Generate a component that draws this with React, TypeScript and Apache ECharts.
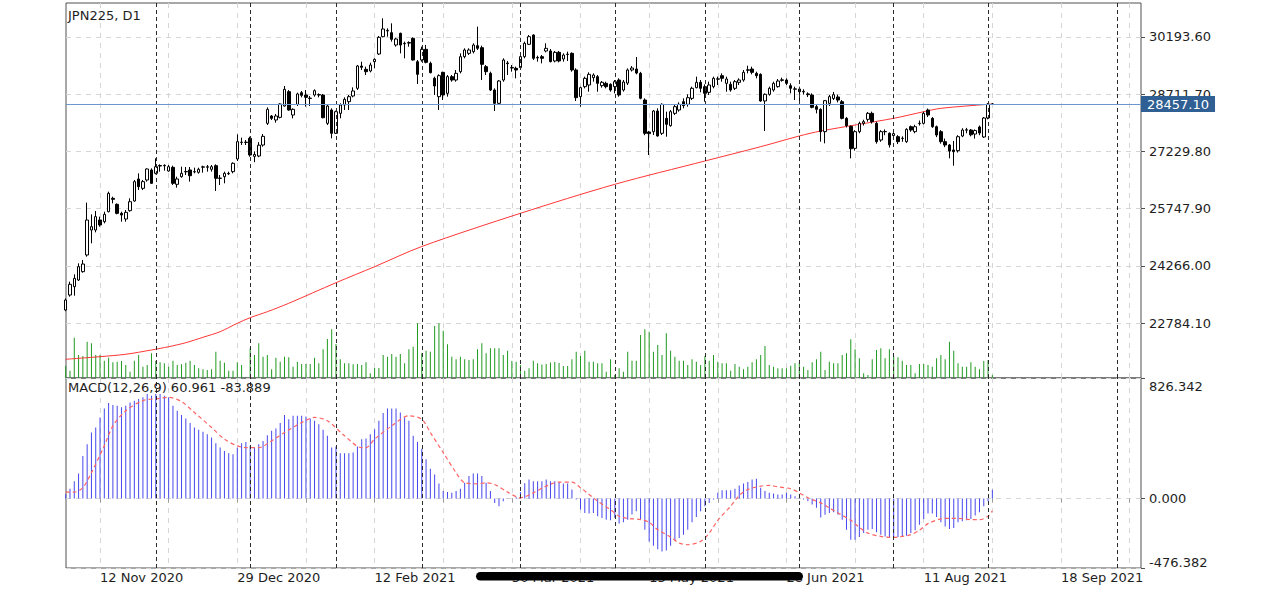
import React, { useEffect, useRef } from "react";
import * as echarts from "echarts";

const FONT = "DejaVu Sans";
const symbolTitle = "JPN225, D1";
const macdTitle = "MACD(12,26,9) 60.961 -83.889";
const lastPrice = 28457.1;

// Daily bars, bar 0 = 2 Nov 2020 ... bar 216 = 2 Sep 2021
const opens = [
  23121, 23509, 23725, 23898, 24114, 24546, 25193, 25193, 25452, 25409,
  25668, 26014, 25858, 25625, 25478, 25694, 25945, 26515, 26273, 26489,
  26748, 26662, 26850, 26868, 26722, 26817, 26377, 26575, 26700, 26748,
  26700, 26688, 26820, 26830, 26765, 26860, 26530, 26575, 26650, 26705,
  27033, 27460, 27470, 27568, 27100, 27111, 27395, 27957, 28147, 28043,
  28112, 28406, 28777, 28173, 28449, 28751, 28691, 28600, 28691, 28700,
  28691, 27957, 28302, 27698, 28216, 28432, 28518, 28665, 28864, 29442,
  29356, 29313, 29554, 29753, 30202, 30350, 30306, 29986, 30289, 30030,
  30035, 30159, 29554, 29598, 29874, 29511, 29123, 28648, 29278, 28734,
  29166, 29079, 29295, 29684, 29770, 29814, 29969, 29917, 29425, 29252,
  28820, 28475, 29079, 29520, 29390, 29382, 29399, 29684, 30004, 30245,
  29650, 29684, 29831, 29831, 29572, 29796, 29624, 29740, 29770, 29339,
  28648, 28907, 28950, 29140, 29166, 28933, 28993, 28967, 28907, 29079,
  28820, 28999, 29339, 29364, 29252, 28561, 27733, 27741, 28276, 27698,
  28086, 27896, 28216, 28302, 28518, 28449, 28604, 28881, 29019, 28907,
  28760, 28907, 29100, 29192, 28993, 28967, 28864, 29019, 29079, 29330,
  29364, 29252, 29226, 28536, 28708, 28820, 28907, 29070, 29079, 28933,
  28840, 28846, 28770, 28720, 28691, 28389, 28320, 27741, 28475, 28600,
  28640, 28518, 28086, 27880, 27309, 27741, 27957, 28060, 28216, 27957,
  27525, 27740, 27700, 27640, 27611, 27565, 27482, 27870, 27741, 27950,
  27957, 28302, 28086, 27870, 27741, 27482, 27396, 27266, 27249, 27628,
  27780, 27784, 27680, 27862, 27603, 28095, 28455,
];
const highs = [
  23420, 23855, 24045, 24330, 24416, 25902, 25599, 25686, 25539, 25668,
  26187, 26057, 25884, 25668, 25712, 26014, 26489, 26662, 26489, 26791,
  26791, 27050, 26895, 26895, 26877, 26860, 26575, 26834, 26826, 26826,
  26808, 26808, 26860, 26877, 26877, 26895, 26618, 26705, 26705, 26946,
  27672, 27586, 27525, 27611, 27230, 27470, 27681, 28371, 28173, 28199,
  28475, 28924, 28820, 28345, 28751, 28795, 28820, 28665, 28838, 28734,
  28717, 28449, 28345, 28285, 28475, 28630, 28691, 28889, 29468, 29554,
  29425, 29529, 29641, 30219, 30677, 30418, 30548, 30176, 30306, 30073,
  30081, 30185, 29598, 29943, 29986, 29554, 29166, 29226, 29295, 29209,
  29209, 29339, 29770, 29900, 29900, 30030, 30461, 29969, 29468, 29295,
  28863, 29079, 29641, 29572, 29468, 29425, 29727, 30073, 30245, 30263,
  29710, 29727, 30030, 29883, 29831, 29831, 29770, 29814, 29796, 29382,
  28907, 29166, 29278, 29252, 29209, 29054, 29036, 28993, 29079, 29123,
  29080, 29380, 29440, 29675, 29290, 28604, 27760, 28302, 28345, 28475,
  28259, 28302, 28449, 28501, 28604, 28708, 28907, 29166, 29079, 28967,
  29036, 29166, 29166, 29252, 29166, 29036, 29079, 29123, 29339, 29451,
  29425, 29295, 29252, 28734, 28907, 29036, 29105, 29140, 29123, 28993,
  28907, 28907, 28840, 28760, 28734, 28432, 28345, 28561, 28691, 28770,
  28700, 28561, 28120, 27900, 27780, 28000, 28050, 28250, 28260, 28000,
  27780, 27800, 27720, 27760, 27650, 27620, 27830, 27900, 27920, 28030,
  28260, 28340, 28120, 27900, 27780, 27560, 27420, 27500, 27650, 27830,
  27840, 27810, 27800, 27900, 28120, 28480, 28480,
];
const lows = [
  23090, 23466, 23492, 23872, 24088, 24503, 24848, 25133, 25280, 25366,
  25651, 25884, 25599, 25409, 25409, 25668, 25927, 26230, 26230, 26446,
  26385, 26636, 26705, 26731, 26705, 26360, 26290, 26549, 26618, 26446,
  26662, 26653, 26679, 26705, 26705, 26204, 26359, 26403, 26618, 26662,
  26981, 27396, 27396, 27093, 26950, 27080, 27352, 27914, 28043, 27974,
  28086, 28389, 28285, 28086, 28406, 28630, 28389, 28406, 28647, 28630,
  28086, 27914, 27568, 27681, 28086, 28302, 28302, 28630, 28820, 29339,
  29209, 29278, 29382, 29727, 30185, 30202, 30073, 29943, 29770, 29641,
  29943, 29580, 28976, 29554, 29511, 29252, 28691, 28302, 28561, 28648,
  29036, 29036, 29252, 29641, 29727, 29770, 29857, 29079, 29209, 28794,
  28276, 28432, 29036, 29209, 29295, 29123, 29382, 29641, 29986, 29598,
  29555, 29511, 29796, 29537, 29537, 29537, 29555, 29572, 29295, 28535,
  28389, 28863, 28777, 29036, 28777, 28881, 28863, 28777, 28734, 28648,
  28780, 28950, 29300, 29226, 28580, 27650, 27136, 27655, 27611, 27655,
  27611, 27870, 28173, 28259, 28345, 28389, 28561, 28864, 28760, 28518,
  28691, 28864, 28950, 29036, 28777, 28777, 28820, 28950, 29036, 29252,
  29226, 29123, 28518, 27758, 28674, 28777, 28881, 29036, 28950, 28734,
  28561, 28536, 28700, 28640, 28345, 28216, 27482, 27439, 28406, 28560,
  28500, 28060, 27850, 27050, 27250, 27700, 27900, 28000, 27950, 27430,
  27480, 27650, 27330, 27560, 27420, 27480, 27450, 27740, 27700, 27900,
  27930, 28120, 27840, 27600, 27430, 27340, 27050, 26860, 27200, 27600,
  27700, 27620, 27560, 27650, 27580, 28060, 28440,
];
const closes = [
  23380, 23786, 23941, 24243, 24312, 25452, 25280, 25539, 25323, 25599,
  26143, 25988, 25625, 25582, 25651, 25927, 26446, 26316, 26446, 26774,
  26403, 26834, 26865, 26858, 26834, 26403, 26515, 26662, 26710, 26601,
  26705, 26765, 26830, 26822, 26834, 26532, 26540, 26662, 26660, 26921,
  27482, 27470, 27460, 27137, 27150, 27390, 27620, 28319, 28086, 28147,
  28458, 28838, 28302, 28319, 28717, 28682, 28630, 28610, 28803, 28690,
  28104, 28406, 27698, 28259, 28432, 28579, 28648, 28795, 29442, 29408,
  29295, 29468, 29615, 30185, 30401, 30365, 30133, 30142, 29986, 30020,
  30050, 29598, 29226, 29874, 29537, 29270, 28924, 29192, 28691, 29166,
  29079, 29252, 29684, 29857, 29857, 29986, 29900, 29485, 29295, 28820,
  28475, 29054, 29598, 29505, 29405, 29339, 29684, 30030, 30202, 29641,
  29665, 29641, 29900, 29555, 29796, 29572, 29727, 29748, 29339, 28622,
  28881, 29123, 29226, 29209, 28993, 29019, 28907, 28820, 29036, 28691,
  29027, 29339, 29390, 29260, 28604, 27698, 27690, 28276, 27629, 28449,
  27931, 28259, 28389, 28449, 28415, 28622, 28864, 29019, 28864, 28734,
  28950, 29123, 29110, 29123, 29105, 28820, 29036, 29079, 29278, 29345,
  29278, 29192, 28536, 28708, 28864, 28993, 29054, 29085, 28993, 28864,
  28850, 28777, 28785, 28700, 28371, 28320, 27741, 28544, 28648, 28700,
  28560, 28086, 27900, 27300, 27741, 27957, 28000, 28216, 28000, 27482,
  27741, 27745, 27400, 27690, 27482, 27570, 27801, 27784, 27870, 27960,
  28216, 28173, 27870, 27654, 27482, 27396, 27240, 27223, 27611, 27784,
  27790, 27660, 27770, 27706, 28095, 28450, 28457.1,
];
// tick volume, thousands
const volumes = [
  12, 7.3, 40.3, 23, 22, 36.3, 34.7, 23, 23, 17.3,
  20.3, 15.7, 16.3, 17, 13, 6.3, 17.3, 23, 11.3, 13,
  24.7, 17, 15.7, 14.7, 11.3, 17.3, 13, 13.7, 15.3, 17.3,
  13, 9.7, 8.7, 8, 8.7, 26.3, 17.3, 15.3, 7.3, 7.3,
  15.7, 13, 0.7, 29.7, 23, 34.7, 21.3, 23, 8.7, 20.3,
  16.3, 21.3, 20.7, 11.3, 16.3, 14, 14, 14, 20.3, 14.7,
  28.7, 39, 48.7, 34, 18.7, 14.7, 14.7, 13.7, 14, 13,
  15.7, 4.7, 10, 10, 23, 21.3, 24, 21.3, 24, 14.7,
  28.7, 31.3, 54.7, 24.7, 27.3, 26.3, 52, 54.7, 47.3, 33.7,
  21.3, 18.7, 21.3, 18.7, 18, 18.7, 28.7, 34.7, 24.7, 29.7,
  29.7, 29.7, 23, 27.3, 17, 16.3, 13, 7.3, 9.7, 17.3,
  14.7, 13.5, 14, 15.5, 16, 15, 12, 12, 18.7, 26.3,
  22, 27.3, 16.3, 16.3, 14.7, 14.7, 6.3, 18.7, 3, 9.7,
  6.3, 26.3, 17.3, 17.3, 43, 48.7, 46.3, 26.3, 33, 23,
  44.7, 27.3, 21.3, 17.3, 17.3, 13, 18.7, 16.3, 13, 22,
  17.3, 23, 16.3, 14.7, 14.7, 7.3, 14, 11.3, 8.7, 11.3,
  15.7, 18.7, 23, 32, 13, 11.3, 9.7, 9.7, 9.7, 12.3,
  14.7, 15.3, 11.3, 8, 15.7, 18.7, 26.3, 8, 16.3, 14.7,
  14.7, 23, 24.7, 38.7, 28.7, 19.7, 4.7, 3, 18.7, 28,
  29.7, 19.7, 28.7, 22, 20.7, 17.3, 13, 13, 4.7, 14,
  14, 13, 11.3, 19.7, 23, 18.7, 36.3, 27.3, 14.7, 11.3,
  11.3, 15.7, 11.3, 8.7, 17, 18, 3,
];
const macdValues = [
  30, 67, 119, 172, 292, 372, 452, 487, 556, 618,
  655, 641, 636, 625, 636, 659, 671, 682, 694, 717,
  705, 717, 717, 705, 694, 636, 602, 572, 549, 517,
  487, 471, 457, 441, 418, 379, 349, 326, 310, 303,
  349, 379, 388, 361, 349, 372, 395, 434, 464, 480,
  517, 572, 544, 567, 567, 567, 563, 549, 533, 510,
  471, 430, 349, 356, 310, 310, 310, 315, 356, 407,
  411, 441, 475, 533, 586, 618, 618, 618, 590, 556,
  533, 430, 390, 342, 269, 204, 165, 103, 51, 44,
  39, 51, 67, 108, 154, 172, 172, 154, 108, 51,
  -30, -53, -18, -2, 2, 9, 45, 105, 131, 119,
  119, 119, 131, 119, 119, 113, 103, 103, 62, -7,
  -76, -99, -103, -99, -122, -133, -145, -149, -133, -172,
  -163, -145, -110, -87, -145, -214, -294, -324, -347, -363,
  -356, -324, -287, -271, -248, -214, -163, -126, -87, -53,
  -30, -7, 39, 57, 57, 57, 67, 90, 103, 113,
  131, 136, 74, 51, 39, 34, 28, 28, 39, 28,
  16, 5, -7, -18, -41, -64, -130, -112, -99, -94,
  -110, -145, -214, -283, -283, -264, -237, -214, -209, -232,
  -248, -260, -264, -271, -264, -264, -255, -237, -218, -180,
  -140, -103, -103, -126, -163, -191, -209, -202, -163, -156,
  -149, -140, -117, -94, -53, -18, 60.961,
];
const signalBars = [
  0, 2, 4, 6, 9, 11, 14, 18, 22, 24, 27, 30, 34, 37, 40, 42, 45, 48, 51, 55,
  58, 61, 65, 69, 70, 72, 76, 80, 83, 85, 88, 91, 93, 96, 98, 100, 103, 106, 109, 112,
  115, 118, 120, 122, 124, 127, 129, 131, 134, 136, 138, 141, 143, 145, 148, 150, 152, 155, 157, 159,
  162, 164, 166, 169, 171, 173, 176, 178, 180, 183, 185, 187, 190, 192, 194, 197, 199, 201, 204, 206,
  208, 211, 213, 215, 216,
];
const signalValues = [
  44, 44, 74, 177, 361, 498, 602, 671, 687, 694, 664, 590, 487, 407, 361, 349, 349, 395, 452, 521,
  556, 533, 430, 349, 349, 407, 498, 567, 544, 452, 315, 177, 108, 101, 108, 96, 44, 5, 39, 85,
  113, 113, 74, 28, -18, -76, -122, -136, -145, -163, -214, -264, -305, -317, -294, -237, -149, -53, 21, 62,
  85, 90, 80, 67, 39, 5, -30, -64, -99, -149, -198, -237, -260, -266, -264, -248, -218, -172, -140, -136,
  -136, -145, -145, -122, -83.889,
];
const maBars = [0, 8, 14, 20, 24, 28, 32, 36, 40, 43, 47, 52, 63, 72, 83, 106, 128, 149, 162, 171, 176, 193, 200, 204, 215, 216];
const maValues = [
  21844, 21912, 21974, 22085, 22170, 22274, 22414, 22559, 22777, 22922, 23077, 23295, 23828,
  24243, 24766, 25626, 26377, 26981, 27352, 27629, 27758, 28087, 28258, 28346, 28450, 28458,
];
const xGridBars = [8, 24, 40, 56, 72, 88, 104, 120, 136, 152, 168, 184, 200, 216, 232, 248];
const xLabelBars = [8, 40, 72, 104, 136, 168, 200, 232];
const xLabels = ["12 Nov 2020", "29 Dec 2020", "12 Feb 2021", "30 Mar 2021", "13 May 2021", "28 Jun 2021", "11 Aug 2021", "18 Sep 2021"];
const monthStartBars = [21, 43, 63, 83, 106, 128, 149, 171, 193, 215, 245];
const priceTicks = [22784.1, 24266.0, 25747.9, 27229.8, 28711.7, 30193.6];
const macdTicks = [-476.382, 0, 826.342];

const X_MIN = 0.07;
const X_MAX = 250.65;
const GRID_LINE = { color: "#d6d6d6", type: [5, 5] as any, width: 1 };
const SEP_LINE = { color: "#2a2a2a", type: [4, 3] as any, width: 1 };

function buildOption() {
  const candleData = opens.map((o, i) => [i, o, closes[i], lows[i], highs[i]]);
  const volData = volumes.map((v, i) => [i, v]);
  const macdData = macdValues.map((v, i) => [i, v]);
  const sigData = signalBars.map((b, k) => [b, signalValues[k]]);
  const maData = maBars.map((b, k) => [b, maValues[k]]);
  const sepMarks = monthStartBars.map((b) => ({ xAxis: b, lineStyle: SEP_LINE, label: { show: false } }));
  const labelStyle = { fontFamily: FONT, fontSize: 13, color: "#1e1e1e" };

  const xAxisBase = {
    type: "value",
    min: X_MIN,
    max: X_MAX,
    axisLine: { show: false },
    splitLine: { show: true, lineStyle: GRID_LINE },
  };

  return {
    animation: false,
    backgroundColor: "#ffffff",
    textStyle: { fontFamily: FONT },
    grid: [
      { left: 66, top: 3, width: 1075, height: 375, show: true, borderColor: "#505050", borderWidth: 1, containLabel: false, outerBoundsMode: "none" },
      { left: 66, top: 378, width: 1075, height: 190, show: true, borderColor: "#505050", borderWidth: 1, containLabel: false, outerBoundsMode: "none" },
    ],
    xAxis: [
      {
        ...xAxisBase,
        gridIndex: 0,
        axisTick: { show: false, customValues: xGridBars },
        axisLabel: { show: false },
      },
      {
        ...xAxisBase,
        gridIndex: 1,
        axisTick: { show: true, length: 4, customValues: xGridBars, lineStyle: { color: "#9a9a9a" } },
        axisLabel: {
          show: true,
          customValues: xLabelBars,
          align: "left",
          margin: 3,
          ...labelStyle,
          formatter: (v: number) => {
            const k = xLabelBars.indexOf(Math.round(v));
            return k >= 0 ? xLabels[k] : "";
          },
        },
      },
    ],
    yAxis: [
      {
        type: "value",
        gridIndex: 0,
        position: "right",
        min: 21359.3,
        max: 31074.4,
        axisLine: { show: false },
        axisTick: { show: true, length: 4, customValues: priceTicks, lineStyle: { color: "#505050" } },
        axisLabel: { customValues: priceTicks, margin: 8, ...labelStyle, formatter: (v: number) => v.toFixed(2) },
        splitLine: { show: true, lineStyle: GRID_LINE },
      },
      {
        type: "value",
        gridIndex: 0,
        min: 0,
        max: 375,
        show: false,
        splitLine: { show: false },
      },
      {
        type: "value",
        gridIndex: 1,
        position: "right",
        min: -476.382,
        max: 826.342,
        axisLine: { show: false },
        axisTick: { show: true, length: 4, customValues: macdTicks, lineStyle: { color: "#505050" } },
        axisLabel: {
          customValues: macdTicks,
          margin: 8,
          ...labelStyle,
          formatter: (v: number) => {
            const s = v.toFixed(3);
            if (v > 800) return "{top|" + s + "}";
            if (v < -400) return "{bot|" + s + "}";
            return s;
          },
          rich: {
            top: { ...labelStyle, padding: [16, 0, 0, 0] },
            bot: { ...labelStyle, padding: [0, 0, 12, 0] },
          },
        },
        splitLine: { show: true, lineStyle: GRID_LINE },
      },
    ],
    series: [
      {
        type: "bar",
        name: "Volume",
        xAxisIndex: 0,
        yAxisIndex: 1,
        data: volData,
        barWidth: 1,
        itemStyle: { color: "#1f9a1f" },
        silent: true,
        z: 1,
      },
      {
        type: "line",
        name: "MA",
        xAxisIndex: 0,
        yAxisIndex: 0,
        data: maData,
        showSymbol: false,
        symbol: "none",
        smooth: 0.3,
        lineStyle: { color: "#ff3535", width: 1 },
        silent: true,
        z: 2,
      },
      {
        type: "candlestick",
        name: "JPN225",
        xAxisIndex: 0,
        yAxisIndex: 0,
        data: candleData,
        encode: { x: 0, y: [1, 2, 3, 4] },
        barWidth: 3,
        itemStyle: {
          color: "#ffffff",
          color0: "#000000",
          borderColor: "#000000",
          borderColor0: "#000000",
          borderWidth: 1,
        },
        silent: true,
        z: 3,
        markLine: {
          silent: true,
          symbol: ["none", "none"],
          animation: false,
          data: [
            ...sepMarks,
            {
              yAxis: lastPrice,
              lineStyle: { color: "#6b97cf", type: "solid", width: 1 },
              label: {
                show: true,
                position: "end",
                distance: 0,
                formatter: lastPrice.toFixed(2),
                backgroundColor: "#2f5f93",
                color: "#ffffff",
                fontFamily: FONT,
                fontSize: 13,
                padding: [2, 6, 1, 6],
              },
            },
          ],
        },
      },
      {
        type: "bar",
        name: "MACD",
        xAxisIndex: 1,
        yAxisIndex: 2,
        data: macdData,
        barWidth: 1,
        itemStyle: { color: "#4646ee" },
        silent: true,
        markLine: {
          silent: true,
          symbol: ["none", "none"],
          animation: false,
          data: sepMarks,
        },
      },
      {
        type: "line",
        name: "Signal",
        xAxisIndex: 1,
        yAxisIndex: 2,
        data: sigData,
        showSymbol: false,
        symbol: "none",
        smooth: 0.3,
        lineStyle: { color: "#ff6464", width: 1.2, type: [4, 3] },
        silent: true,
        z: 3,
      },
    ],
    graphic: [
      {
        type: "text",
        x: 68,
        y: 15,
        style: { text: symbolTitle, font: "13px 'DejaVu Sans'", fill: "#1e1e1e", verticalAlign: "middle", align: "left" },
        z: 50,
      },
      {
        type: "text",
        x: 68,
        y: 387,
        style: { text: macdTitle, font: "13px 'DejaVu Sans'", fill: "#1e1e1e", verticalAlign: "middle", align: "left" },
        z: 50,
      },
      {
        type: "rect",
        shape: { x: 476, y: 572, width: 327, height: 8.5, r: 4.25 },
        style: { fill: "#000000" },
        z: 100,
      },
    ],
  };
}

export default function App() {
  const ref = useRef<HTMLDivElement>(null);
  useEffect(() => {
    if (!ref.current) return;
    const chart = echarts.init(ref.current, null, { renderer: "svg" });
    chart.setOption(buildOption() as any);
    return () => chart.dispose();
  }, []);
  return (
    <div
      ref={ref}
      style={{ position: "fixed", left: 0, top: 0, width: 1280, height: 592, background: "#ffffff" }}
    />
  );
}
